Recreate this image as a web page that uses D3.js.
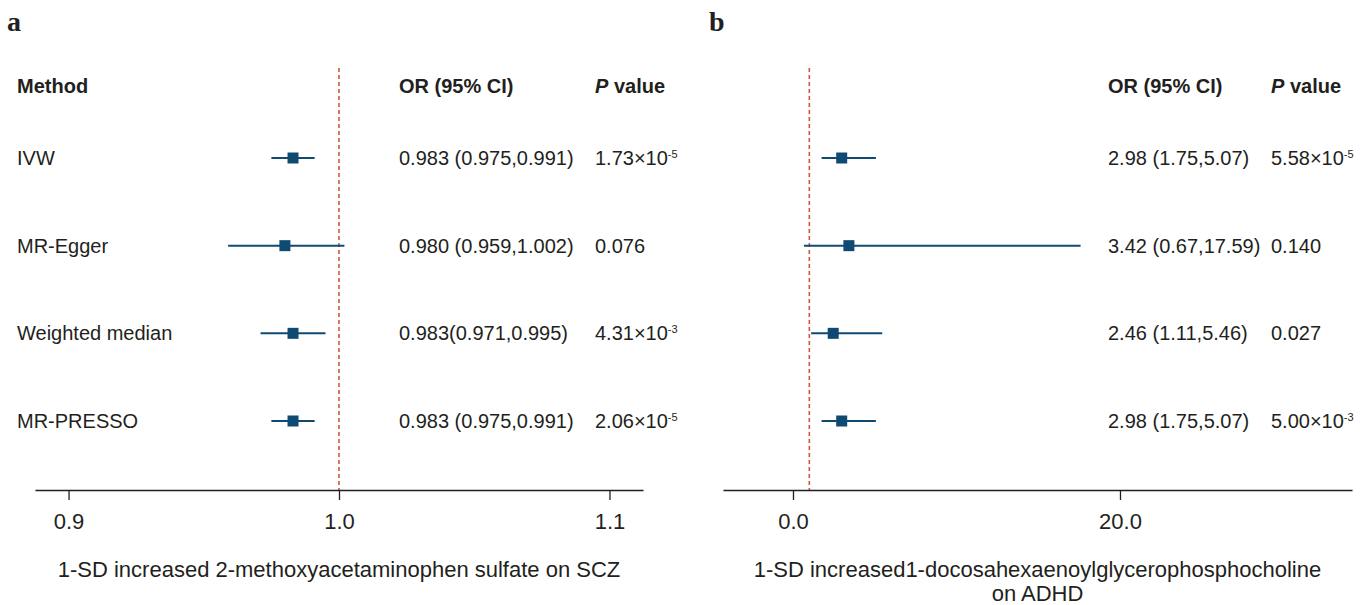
<!DOCTYPE html>
<html>
<head>
<meta charset="utf-8">
<script src="https://cdn.jsdelivr.net/npm/d3@7"></script>
<style>
  body { margin: 0; background: #fff; }
  text { font-family: "Liberation Sans", Arial, sans-serif; fill: #231f20; }
</style>
</head>
<body>
<div id="chart"></div>
<script>
// ******************************** DATA ***************************************
var methods = ["IVW", "MR-Egger", "Weighted median", "MR-PRESSO"];

// Panel a: SCZ
var orA = [0.983, 0.980, 0.983, 0.983];
var lowA = [0.975, 0.959, 0.971, 0.975];
var highA = [0.991, 1.002, 0.995, 0.991];
var orLabelA = ["0.983 (0.975,0.991)", "0.980 (0.959,1.002)", "0.983(0.971,0.995)", "0.983 (0.975,0.991)"];
var pBaseA = ["1.73×10", "0.076", "4.31×10", "2.06×10"];
var pExpA = ["-5", "", "-3", "-5"];
var ticksA = [0.9, 1.0, 1.1];

// Panel b: ADHD
var orB = [2.98, 3.42, 2.46, 2.98];
var lowB = [1.75, 0.67, 1.11, 1.75];
var highB = [5.07, 17.59, 5.46, 5.07];
var orLabelB = ["2.98 (1.75,5.07)", "3.42 (0.67,17.59)", "2.46 (1.11,5.46)", "2.98 (1.75,5.07)"];
var pBaseB = ["5.58×10", "0.140", "0.027", "5.00×10"];
var pExpB = ["-5", "", "", "-3"];
var ticksB = [0, 20];

// ****************************** CANVAS ***************************************
var svgWidth = 1366, svgHeight = 605;
var blue = "#0f4a73", red = "#d4553a";
var fontSize = 20;     // table text
var axisFont = 22;     // ticks + axis titles

var svg = d3.select("#chart").append("svg")
  .attr("width", svgWidth)
  .attr("height", svgHeight);

// shared row positions
var yRow = d3.scalePoint().domain(methods).range([158, 421]);
var headerY = 86, axisY = 490, nullTop = 68;

// draw one forest panel
function drawPanel(cfg) {
  var g = svg.append("g");
  var x = d3.scaleLinear().domain(cfg.domain).range(cfg.range);
  var rows = methods.map(function(m, i) {
    return {m: m, or: cfg.or[i], lo: cfg.low[i], hi: cfg.high[i],
            txt: cfg.orLabel[i], pb: cfg.pBase[i], pe: cfg.pExp[i]};
  });

  // panel letter
  g.append("text")
    .attr("x", cfg.letterX).attr("y", 31)
    .style("font-family", "'Liberation Serif', 'Times New Roman', serif")
    .style("font-weight", "bold").style("font-size", "28px")
    .text(cfg.letter);

  // null line
  g.append("line")
    .attr("x1", x(1)).attr("x2", x(1))
    .attr("y1", nullTop).attr("y2", axisY)
    .attr("stroke", red).attr("stroke-width", 1.6)
    .attr("stroke-dasharray", "4,3");

  // axis
  var axis = d3.axisBottom(x)
    .tickValues(cfg.ticks)
    .tickFormat(d3.format(".1f"))
    .tickSizeOuter(0)
    .tickSizeInner(10)
    .tickPadding(14);
  var ax = g.append("g")
    .attr("transform", "translate(0," + axisY + ")")
    .call(axis);
  ax.select(".domain").attr("stroke", "#231f20").attr("stroke-width", 1.6);
  ax.selectAll(".tick line").attr("stroke", "#231f20").attr("stroke-width", 1.3);
  ax.selectAll(".tick text")
    .style("font-family", "'Liberation Sans', Arial, sans-serif")
    .style("font-size", axisFont + "px").attr("fill", "#231f20")
    .attr("dy", null).attr("y", 39);

  // CI lines
  g.selectAll(".ci").data(rows).enter().append("line")
    .attr("x1", function(d) { return x(d.lo); })
    .attr("x2", function(d) { return x(d.hi); })
    .attr("y1", function(d) { return yRow(d.m); })
    .attr("y2", function(d) { return yRow(d.m); })
    .attr("stroke", blue).attr("stroke-width", 2);

  // point estimates
  var sq = 11;
  g.selectAll(".pt").data(rows).enter().append("rect")
    .attr("x", function(d) { return x(d.or) - sq / 2; })
    .attr("y", function(d) { return yRow(d.m) - sq / 2; })
    .attr("width", sq).attr("height", sq)
    .attr("fill", blue);

  // method column (panel a only)
  if (cfg.showMethods) {
    g.append("text").attr("x", 17).attr("y", headerY + 7)
      .style("font-size", fontSize + "px").style("font-weight", "bold")
      .text("Method");
    g.selectAll(".mlab").data(rows).enter().append("text")
      .attr("x", 17).attr("y", function(d) { return yRow(d.m) + 7; })
      .style("font-size", fontSize + "px")
      .text(function(d) { return d.m; });
  }

  // OR column
  g.append("text").attr("x", cfg.orX).attr("y", headerY + 7)
    .style("font-size", fontSize + "px").style("font-weight", "bold")
    .text("OR (95% CI)");
  g.selectAll(".orlab").data(rows).enter().append("text")
    .attr("x", cfg.orX).attr("y", function(d) { return yRow(d.m) + 7; })
    .style("font-size", fontSize + "px")
    .text(function(d) { return d.txt; });

  // P column
  var ph = g.append("text").attr("x", cfg.pX).attr("y", headerY + 7)
    .style("font-size", fontSize + "px").style("font-weight", "bold");
  ph.append("tspan").style("font-style", "italic").text("P");
  ph.append("tspan").text(" value");

  var pt = g.selectAll(".plab").data(rows).enter().append("text")
    .attr("x", cfg.pX).attr("y", function(d) { return yRow(d.m) + 7; })
    .style("font-size", fontSize + "px");
  pt.append("tspan").text(function(d) { return d.pb; });
  pt.append("tspan")
    .attr("dy", -7)
    .style("font-size", "11px")
    .text(function(d) { return d.pe; });

  // axis title
  var tx = (cfg.range[0] + cfg.range[1]) / 2;
  cfg.title.forEach(function(line, i) {
    g.append("text")
      .attr("x", tx).attr("y", 577 + i * 24)
      .attr("text-anchor", "middle")
      .style("font-size", axisFont + "px")
      .text(line);
  });
}

drawPanel({
  letter: "a", letterX: 7,
  domain: [0.8876, 1.1124], range: [35, 643],
  ticks: ticksA,
  or: orA, low: lowA, high: highA,
  orLabel: orLabelA, pBase: pBaseA, pExp: pExpA,
  showMethods: true, orX: 399, pX: 595,
  title: ["1-SD increased 2-methoxyacetaminophen sulfate on SCZ"]
});

drawPanel({
  letter: "b", letterX: 709,
  domain: [-4.28, 34.19], range: [723, 1352],
  ticks: ticksB,
  or: orB, low: lowB, high: highB,
  orLabel: orLabelB, pBase: pBaseB, pExp: pExpB,
  showMethods: false, orX: 1108, pX: 1271,
  title: ["1-SD increased1-docosahexaenoylglycerophosphocholine", "on ADHD"]
});
</script>
</body>
</html>
